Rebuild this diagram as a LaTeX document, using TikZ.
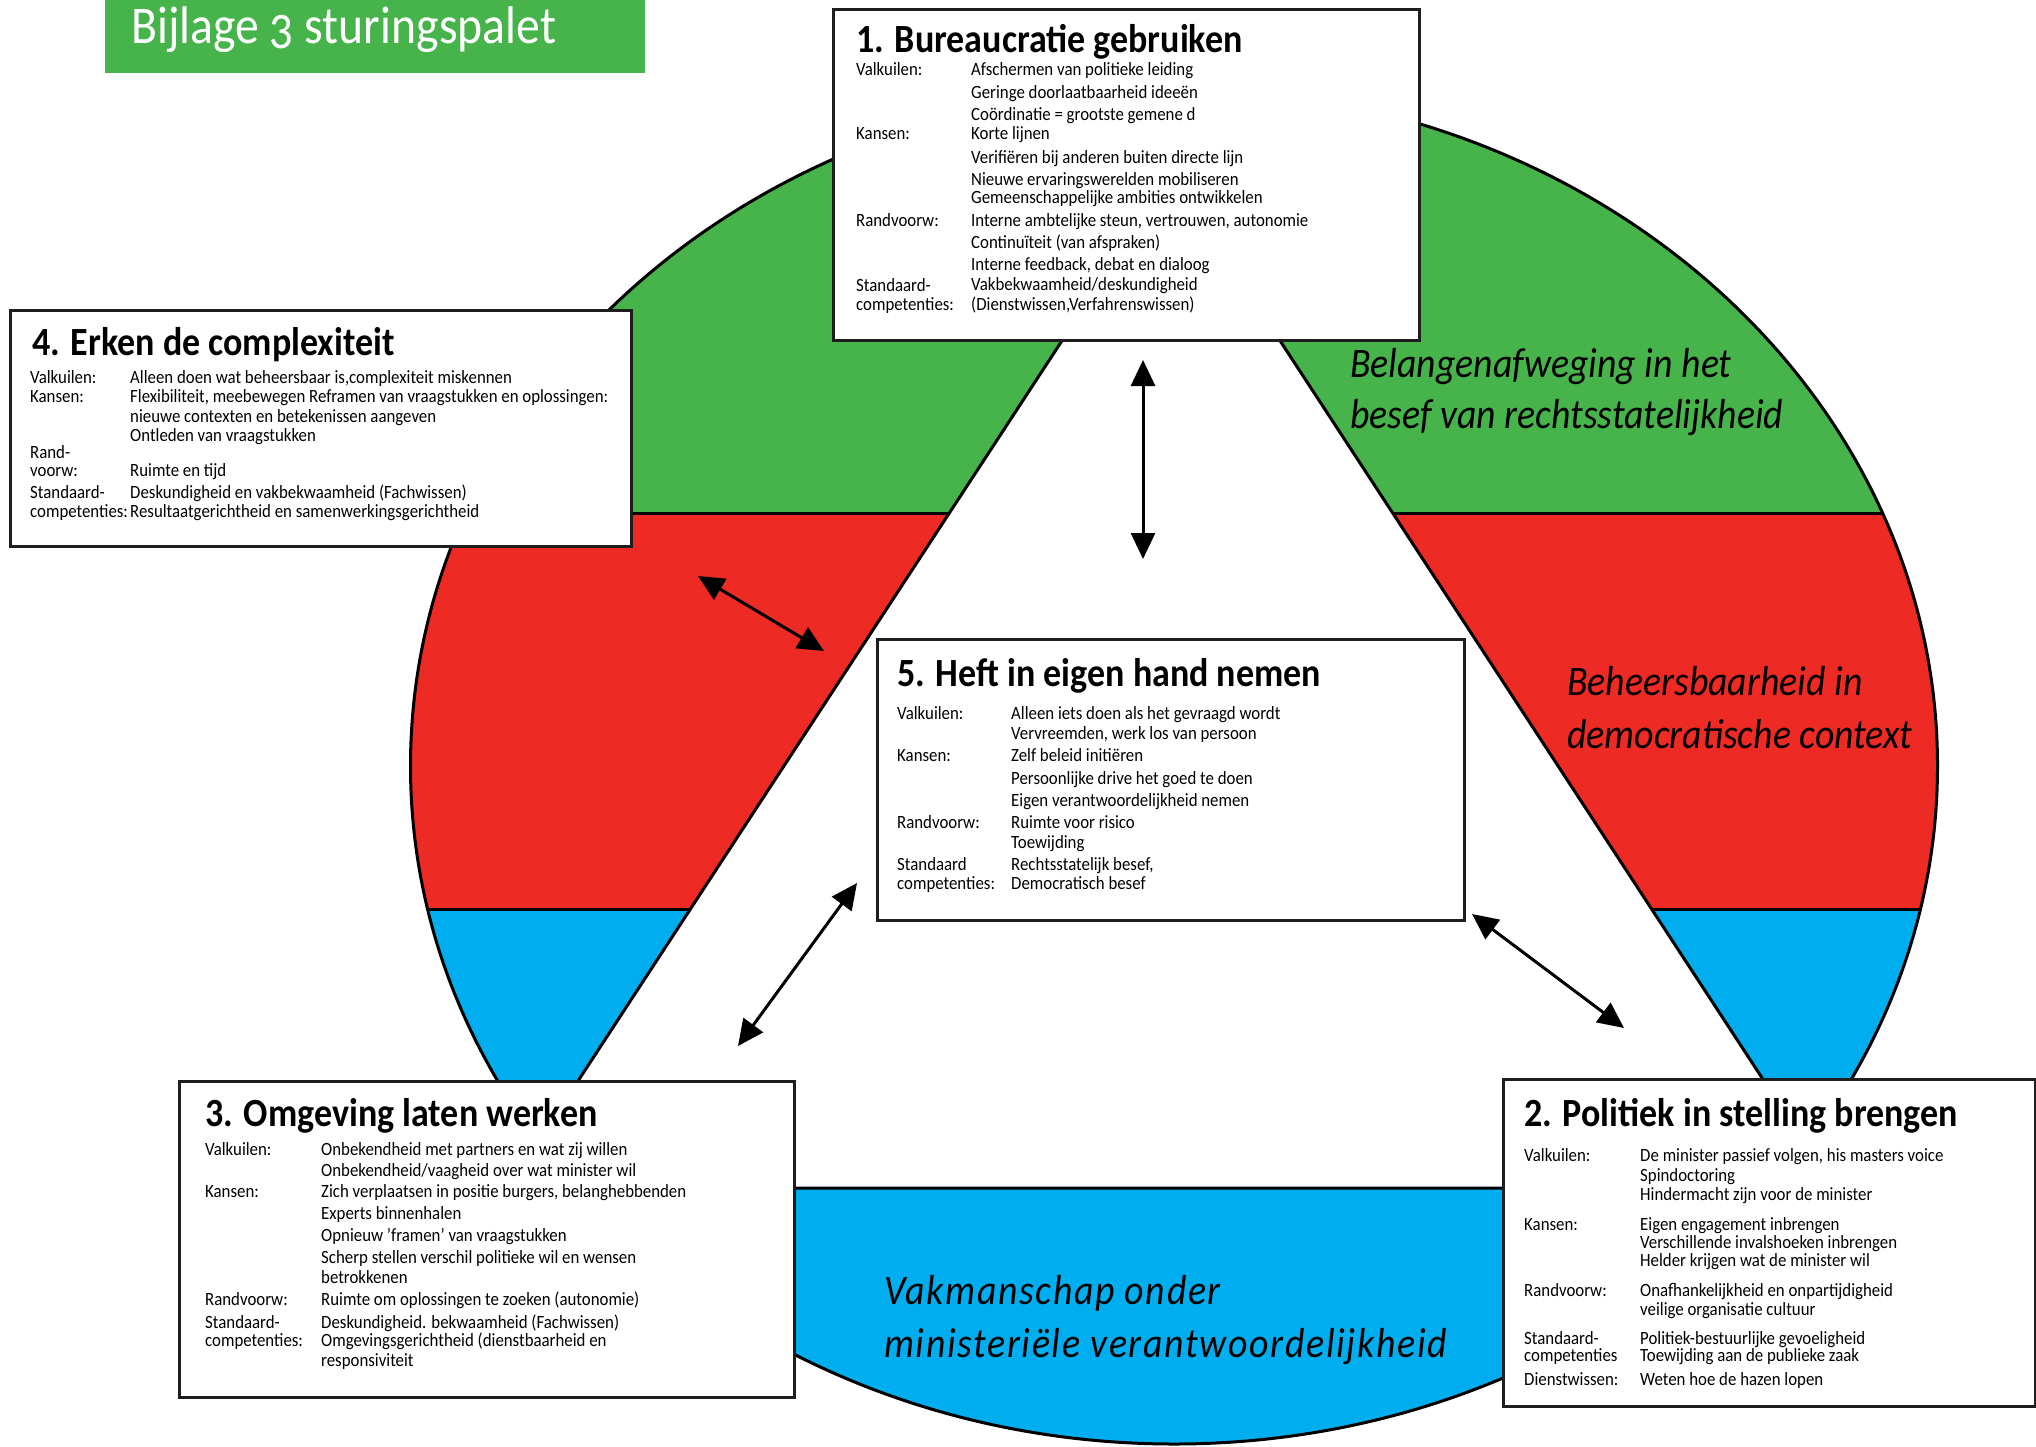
\documentclass[tikz,border=0pt]{standalone}
\usepackage{fontspec}
\setmainfont{Carlito}[FakeStretch=0.9]
\usetikzlibrary{arrows.meta}
\definecolor{cgreen}{RGB}{71,180,75}
\definecolor{cred}{RGB}{238,42,36}
\definecolor{cblue}{RGB}{0,174,239}
\definecolor{boxline}{RGB}{30,30,30}
\tikzset{
 box/.style={draw=boxline, line width=3pt, fill=white, anchor=north west, inner sep=0pt},
 ttl/.style={anchor=base west, inner sep=0pt, font=\fontsize{40}{44}\selectfont\bfseries},
 lbl/.style={anchor=base west, inner sep=0pt, font=\fontsize{18.7}{20}\selectfont},
 big/.style={anchor=base west, inner sep=0pt, font=\fontsize{42}{46}\selectfont\itshape},
 bigwide/.style={anchor=base west, inner sep=0pt, font=\fontsize{42}{46}\selectfont\itshape\addfontfeatures{LetterSpace=4}},
 arr/.style={line width=3pt, {Triangle[length=26pt,width=24pt]}-{Triangle[length=26pt,width=24pt]}},
 outline/.style={line width=3pt, draw=black}
}
\begin{document}
\begin{tikzpicture}[x=1pt,y=-1pt]
\useasboundingbox (0,0) rectangle (2036,1447);
% palette
\coordinate (E) at (1174,766);
\begin{scope}
 \clip (E) ellipse [x radius=763.5pt, y radius=678pt];
 \fill[cgreen] (0,0) rectangle (2036,513);
 \fill[cred] (0,513) rectangle (2036,909);
 \fill[cblue] (0,909) rectangle (2036,1447);
 \draw[outline] (0,513) -- (2036,513) (0,909) -- (2036,909);
 \filldraw[outline, fill=white, line join=miter] (1171,174) -- (1834,1188) -- (508,1188) -- cycle;
\end{scope}
\draw[outline] (E) ellipse [x radius=763.5pt, y radius=678pt];
% banner
\fill[cgreen] (105,0) rectangle (645,73);
\node[anchor=base west, inner sep=0pt, text=white, font=\fontsize{53}{56}\selectfont\addfontfeatures{Numbers=OldStyle}] (banner) at (131,44) {Bijlage 3 sturingspalet};
% italic labels
\node[big] (g1) at (1350,377) {Belangenafweging in het};
\node[big] (g2) at (1350,428) {besef van rechtsstatelijkheid};
\node[big] (r1) at (1567,695) {Beheersbaarheid in};
\node[big] (r2) at (1567,748) {democratische context};
\node[bigwide] (u1) at (884,1304) {Vakmanschap onder};
\node[bigwide] (u2) at (884,1357) {ministeriële verantwoordelijkheid};
% Box 1
\node[box, minimum width=586pt, minimum height=331pt] (box1) at (832,8) {};
\node[ttl] (t1) at (856,53) {1. Bureaucratie gebruiken};
\foreach \yy/\txt [count=\i] in {76/Valkuilen:, 140/Kansen:, 227/Randvoorw:, 291/Standaard-, 310/competenties:}
  \node[lbl] (b1l\i) at (856,\yy) {\txt};
\foreach \yy/\txt [count=\i] in {76/{Afschermen van politieke leiding}, 98.5/{Geringe doorlaatbaarheid ideeën}, 120.6/{Coördinatie = grootste gemene d}, 140/{Korte lijnen}, 163.4/{Verifiëren bij anderen buiten directe lijn}, 185.5/{Nieuwe ervaringswerelden mobiliseren}, 203.7/{Gemeenschappelijke ambities ontwikkelen}, 227/{Interne ambtelijke steun, vertrouwen, autonomie}, 249/{Continuïteit (van afspraken)}, 271/{Interne feedback, debat en dialoog}, 290.7/{Vakbekwaamheid/deskundigheid}, 310/{(Dienstwissen,Verfahrenswissen)}}
  \node[lbl] (b1v\i) at (971,\yy) {\txt};
% Box 4
\node[box, minimum width=621pt, minimum height=236pt] (box4) at (9,309) {};
\node[ttl] (t4) at (32,355) {4. Erken de complexiteit};
\foreach \yy/\txt [count=\i] in {383/Valkuilen:, 402/Kansen:, 458/Rand-, 476/voorw:, 498/Standaard-, 517/competenties:}
  \node[lbl] (b4l\i) at (30,\yy) {\txt};
\foreach \yy/\txt [count=\i] in {383/{Alleen doen wat beheersbaar is,complexiteit miskennen}, 402/{Flexibiliteit, meebewegen Reframen van vraagstukken en oplossingen:}, 422/{nieuwe contexten en betekenissen aangeven}, 441/{Ontleden van vraagstukken}, 476/{Ruimte en tijd}, 498/{Deskundigheid en vakbekwaamheid (Fachwissen)}, 517/{Resultaatgerichtheid en samenwerkingsgerichtheid}}
  \node[lbl] (b4v\i) at (130,\yy) {\txt};
% Box 5
\node[box, minimum width=587pt, minimum height=281pt] (box5) at (876,638) {};
\node[ttl] (t5) at (897,686) {5. Heft in eigen hand nemen};
\foreach \yy/\txt [count=\i] in {719/Valkuilen:, 761/Kansen:, 828/Randvoorw:, 870/Standaard, 889/competenties:}
  \node[lbl] (b5l\i) at (897,\yy) {\txt};
\foreach \yy/\txt [count=\i] in {719/{Alleen iets doen als het gevraagd wordt}, 739/{Vervreemden, werk los van persoon}, 761/{Zelf beleid initiëren}, 784/{Persoonlijke drive het goed te doen}, 806/{Eigen verantwoordelijkheid nemen}, 828/{Ruimte voor risico}, 848/{Toewijding}, 870/{Rechtsstatelijk besef,}, 889/{Democratisch besef}}
  \node[lbl] (b5v\i) at (1011,\yy) {\txt};
% Box 3
\node[box, minimum width=615pt, minimum height=316pt] (box3) at (178,1080) {};
\node[ttl] (t3) at (205,1126) {3. Omgeving laten werken};
\foreach \yy/\txt [count=\i] in {1155.5/Valkuilen:, 1197/Kansen:, 1305/Randvoorw:, 1328/Standaard-, 1346/competenties:}
  \node[lbl] (b3l\i) at (205,\yy) {\txt};
\foreach \yy/\txt [count=\i] in {1155.5/{Onbekendheid met partners en wat zij willen}, 1176/{Onbekendheid/vaagheid over wat minister wil}, 1197/{Zich verplaatsen in positie burgers, belanghebbenden}, 1219/{Experts binnenhalen}, 1241/{Opnieuw ’framen’ van vraagstukken}, 1263/{Scherp stellen verschil politieke wil en wensen}, 1283/{betrokkenen}, 1305/{Ruimte om oplossingen te zoeken (autonomie)}, 1328/{Deskundigheid. bekwaamheid (Fachwissen)}, 1346/{Omgevingsgerichtheid (dienstbaarheid en}, 1366/{responsiviteit}}
  \node[lbl] (b3v\i) at (321,\yy) {\txt};
% Box 2
\node[box, minimum width=532pt, minimum height=327pt] (box2) at (1502,1078) {};
\node[ttl] (t2) at (1524,1126) {2. Politiek in stelling brengen};
\foreach \yy/\txt [count=\i] in {1161/Valkuilen:, 1230/Kansen:, 1296/Randvoorw:, 1344/Standaard-, 1361/competenties, 1385/Dienstwissen:}
  \node[lbl] (b2l\i) at (1524,\yy) {\txt};
\foreach \yy/\txt [count=\i] in {1161/{De minister passief volgen, his masters voice}, 1181/{Spindoctoring}, 1200/{Hindermacht zijn voor de minister}, 1230/{Eigen engagement inbrengen}, 1248/{Verschillende invalshoeken inbrengen}, 1266/{Helder krijgen wat de minister wil}, 1296/{Onafhankelijkheid en onpartijdigheid}, 1315/{veilige organisatie cultuur}, 1344/{Politiek-bestuurlijke gevoeligheid}, 1361/{Toewijding aan de publieke zaak}, 1385/{Weten hoe de hazen lopen}}
  \node[lbl] (b2v\i) at (1640,\yy) {\txt};
% arrows
\coordinate (a1s) at (1143,360);
\coordinate (a1e) at (1143,559);
\coordinate (a2s) at (698,576);
\coordinate (a2e) at (824,651);
\coordinate (a3s) at (738,1046);
\coordinate (a3e) at (857,883);
\coordinate (a4s) at (1472,914);
\coordinate (a4e) at (1624,1028);
\draw[arr] (a1s) -- (a1e);
\draw[arr] (a2s) -- (a2e);
\draw[arr] (a3s) -- (a3e);
\draw[arr] (a4s) -- (a4e);
\end{tikzpicture}
\end{document}
